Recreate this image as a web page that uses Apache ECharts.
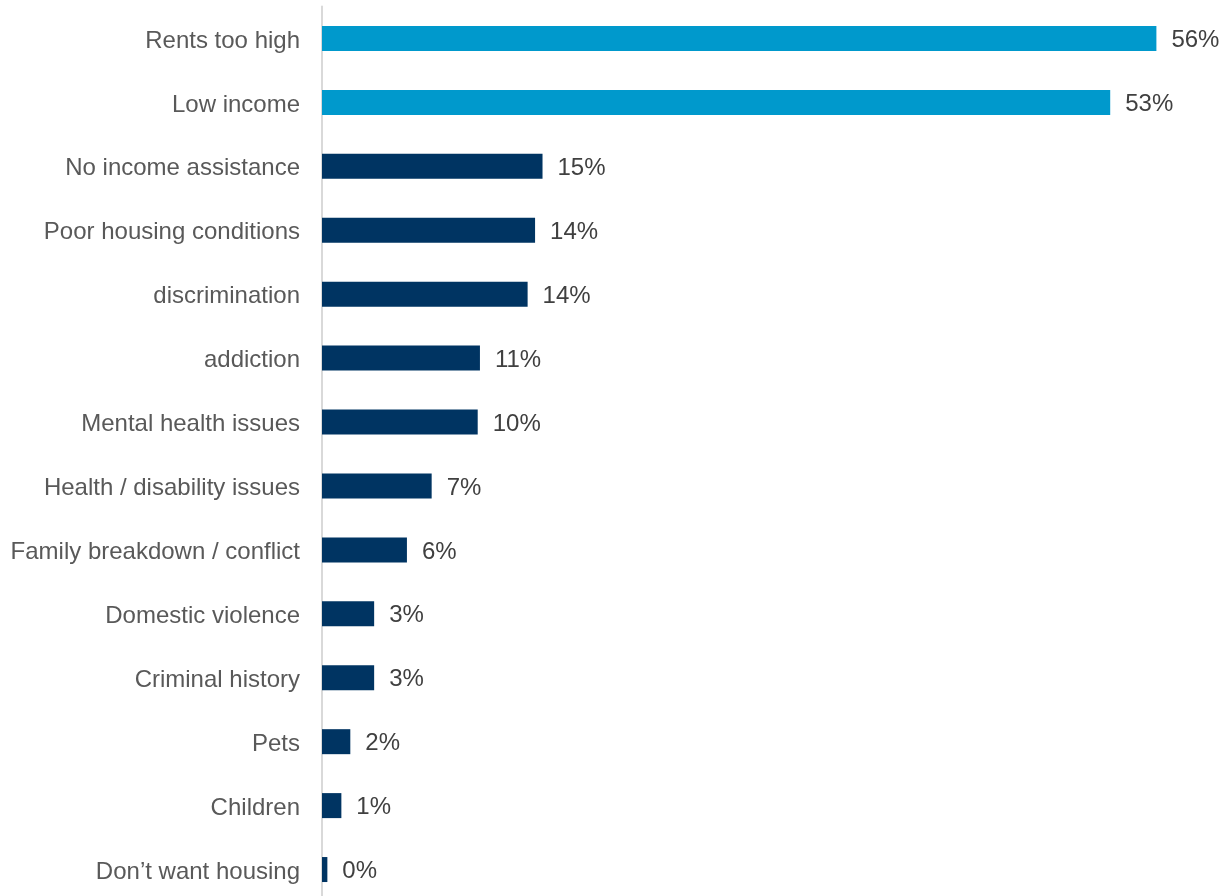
<!DOCTYPE html>
<html>
<head>
<meta charset="utf-8">
<script src="https://cdn.jsdelivr.net/npm/echarts@6/dist/echarts.min.js"></script>
<style>
html,body{margin:0;padding:0;background:#fff;}
#chart{width:1228px;height:896px;}
</style>
</head>
<body>
<div id="chart"></div>
<script>
const categories = ["Rents too high","Low income","No income assistance","Poor housing conditions","discrimination","addiction","Mental health issues","Health / disability issues","Family breakdown / conflict","Domestic violence","Criminal history","Pets","Children","Don\u2019t want housing"];
const values = [56.0,52.9,14.8,14.3,13.8,10.6,10.45,7.36,5.7,3.5,3.5,1.9,1.3,0.36];
const valueLabels = ["56%","53%","15%","14%","14%","11%","10%","7%","6%","3%","3%","2%","1%","0%"];
const highlightCount = 2;
const colorHighlight = "#0099CC";
const colorDefault = "#003462";

const chart = echarts.init(document.getElementById('chart'), null, {renderer:'canvas'});
chart.setOption({
  animation:false,
  grid:{left:322, width:894, top:6.5, height:895, containLabel:false, outerBoundsMode:'none'},
  xAxis:{type:'value', min:0, max:60, show:false},
  yAxis:{
    type:'category', data:categories, inverse:true,
    axisLine:{show:true, lineStyle:{color:'#D9D9D9', width:2}},
    axisTick:{show:false},
    axisLabel:{color:'#595959', fontSize:24, fontFamily:'Liberation Sans, Arial, sans-serif', margin:22, verticalAlign:'top', lineHeight:5}
  },
  series:[{
    type:'bar', barWidth:25,
    data: values.map((v,i)=>({value:v, itemStyle:{color: i<highlightCount?colorHighlight:colorDefault}})),
    label:{show:true, position:'right', distance:15, offset:[0,2], color:'#404040', fontSize:24, fontFamily:'Liberation Sans, Arial, sans-serif',
      formatter:(p)=>valueLabels[p.dataIndex]}
  }]
});
</script>
</body>
</html>
